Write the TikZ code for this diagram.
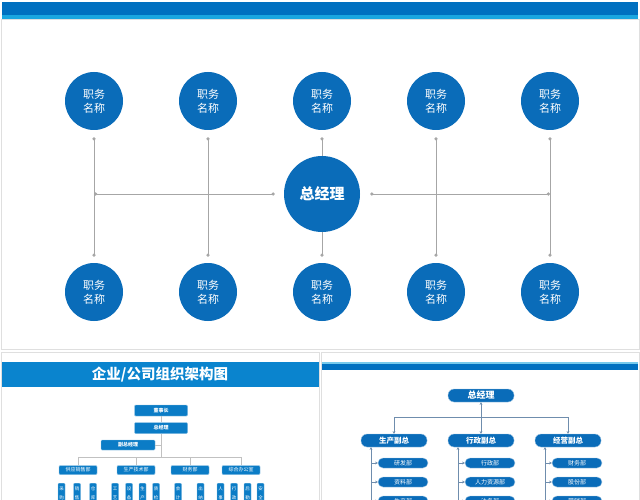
\documentclass[tikz,border=0pt]{standalone}
\usepackage{fontspec}
\setmainfont{Noto Sans CJK SC}
\usetikzlibrary{arrows.meta, positioning}

\definecolor{barblue}{HTML}{0070C0}
\definecolor{barcyan}{HTML}{1AA6E0}
\definecolor{jobblue}{HTML}{0A6CB9}
\definecolor{titleblue}{HTML}{0A84CE}
\definecolor{boxblue}{HTML}{0B7CC6}
\definecolor{linegray}{HTML}{A6A6A6}
\definecolor{lineblue}{HTML}{6F8DAD}

\tikzset{
  job/.style={circle, fill=jobblue, text=white, minimum size=58pt, inner sep=0pt,
    align=center, font=\fontsize{11}{14}\selectfont},
  boss/.style={job, minimum size=76pt, font=\fontsize{15}{18}\selectfont\bfseries},
  link/.style={draw=linegray, line width=0.8pt},
  dotlink/.style={link, {Circle[length=3.2pt]}-{Circle[length=3.2pt]}},
  orgbox/.style={draw=boxblue!45, fill=boxblue, text=white, rounded corners=1pt,
    inner sep=0pt, minimum width=53pt, minimum height=11pt,
    font=\fontsize{5}{6}\selectfont\bfseries},
  dept/.style={orgbox, minimum width=38pt, minimum height=9pt, font=\fontsize{5}{6}\selectfont},
  unit/.style={orgbox, anchor=north, minimum width=7pt, inner xsep=0pt, inner ysep=4pt,
    align=center, font=\fontsize{4.5}{9}\selectfont},
  glink/.style={draw=linegray!70, line width=0.6pt},
  pill/.style={draw=jobblue!40, fill=jobblue, text=white, rounded corners=6pt,
    minimum width=66pt, minimum height=13pt, inner sep=0pt,
    font=\fontsize{9}{10}\selectfont\bfseries},
  head/.style={pill, font=\fontsize{7.5}{9}\selectfont\bfseries},
  item/.style={pill, minimum width=50pt, minimum height=10pt, rounded corners=5pt,
    font=\fontsize{6}{7}\selectfont},
  arrlink/.style={draw=lineblue, line width=0.6pt, >={Stealth[length=2.6pt,width=2.6pt]}}
}

\begin{document}
\begin{tikzpicture}[x=1pt, y=-1pt]
    \useasboundingbox (0,0) rectangle (640,500);
    \fill[white] (0,0) rectangle (640,500);

    % main slide
    \draw[gray!25] (1,19) rectangle (639,349);
    \fill[barblue] (2,2) rectangle (638,15);
    \fill[barcyan] (2,15) rectangle (638,19);

    \node [boss] (gm) at (322,194) {总经理};
    \node [job] (t1) at (94,101) {职务\\名称};
    \node [job, right of=t1, node distance=114pt] (t2) {职务\\名称};
    \node [job, right of=t2, node distance=114pt] (t3) {职务\\名称};
    \node [job, right of=t3, node distance=114pt] (t4) {职务\\名称};
    \node [job, right of=t4, node distance=114pt] (t5) {职务\\名称};
    \node [job] (b1) at (94,292) {职务\\名称};
    \node [job, right of=b1, node distance=114pt] (b2) {职务\\名称};
    \node [job, right of=b2, node distance=114pt] (b3) {职务\\名称};
    \node [job, right of=b3, node distance=114pt] (b4) {职务\\名称};
    \node [job, right of=b4, node distance=114pt] (b5) {职务\\名称};

    \coordinate (hl) at (94,194);
    \coordinate (hr) at (550,194);

    % vertical links
    \draw[dotlink, shorten <=7pt, shorten >=6pt] (t1) -- (b1);
    \draw[dotlink, shorten <=7pt, shorten >=6pt] (t2) -- (b2);
    \draw[dotlink, shorten <=7pt, shorten >=6pt] (t4) -- (b4);
    \draw[dotlink, shorten <=7pt, shorten >=6pt] (t5) -- (b5);
    \draw[link, {Circle[length=3.2pt]}-, shorten <=7pt] (t3) -- (gm);
    \draw[link, -{Circle[length=3.2pt]}, shorten >=6pt] (gm) -- (b3);

    % horizontal links
    \draw[dotlink, shorten >=9pt] (hl) -- (gm);
    \draw[dotlink, shorten <=10pt] (gm) -- (hr);

    % left small slide
    \draw[gray!25] (1,352) rectangle (319,501);
    \fill[titleblue] (2,362) rectangle (319,387);
    \node [text=white, font=\fontsize{14.5}{16}\selectfont\bfseries] (ltitle) at (160,375) {企业/公司组织架构图};

    \node [orgbox] (chair) at (161,410.5) {董事长};
    \node [orgbox] (gm1) at (161,428) {总经理};
    \node [orgbox, minimum width=54pt, minimum height=10pt] (vice) at (128,445) {副总经理};
    \coordinate (lj) at (161,457);

    \node [dept] (d1) at (78,470) {供应销售部};
    \node [dept] (d2) at (136,470) {生产技术部};
    \node [dept] (d3) at (190,470) {财务部};
    \node [dept] (d4) at (241,470) {综合办公室};

    \draw[glink] (chair) -- (gm1);
    \draw[glink] (gm1) -- (lj);
    \draw[glink] (vice.east) -- (vice.east -| lj);
    \draw[glink] (d1.north) -- (d1.north |- lj) -- (d4.north |- lj) -- (d4.north);
    \draw[glink] (d2.north) -- (d2.north |- lj);
    \draw[glink] (d3.north) -- (d3.north |- lj);

    \node [unit] (u1) at (61.5,483) {采\\购};
    \node [unit] (u2) at (77,483) {销\\售};
    \node [unit] (u3) at (93,483) {仓\\库};
    \node [unit] (u4) at (115,483) {工\\艺};
    \node [unit] (u5) at (129,483) {设\\备};
    \node [unit] (u6) at (142.5,483) {生\\产};
    \node [unit] (u7) at (156,483) {质\\检};
    \node [unit] (u8) at (178,483) {会\\计};
    \node [unit] (u9) at (200.5,483) {出\\纳};
    \node [unit] (u10) at (220.5,483) {人\\事};
    \node [unit] (u11) at (234,483) {行\\政};
    \node [unit] (u12) at (247.5,483) {后\\勤};
    \node [unit] (u13) at (260.5,483) {安\\全};

    % right small slide
    \draw[gray!25] (321,352) rectangle (639,501);
    \fill[barblue] (322,362) rectangle (638,370);
    \fill[barcyan!60] (322,362) rectangle (638,363.5);

    \node [pill] (gm2) at (481,395.5) {总经理};
    \node [head] (vp1) at (394,440.5) {生产副总};
    \node [head] (vp2) at (481,440.5) {行政副总};
    \node [head] (vp3) at (568,440.5) {经营副总};
    \coordinate (rj) at (481,417);

    \draw[arrlink, <-] (gm2) -- (rj);
    \draw[arrlink, ->] (rj) -| (vp1);
    \draw[arrlink, ->] (rj) -- (vp2);
    \draw[arrlink, ->] (rj) -| (vp3);

    \node [item] (i11) at (403,463) {研发部};
    \node [item] (i12) at (403,482) {资料部};
    \node [item] (i13) at (403,501) {生产部};
    \node [item] (i21) at (490,463) {行政部};
    \node [item] (i22) at (490,482) {人力资源部};
    \node [item] (i23) at (490,501) {法务部};
    \node [item] (i31) at (577,463) {财务部};
    \node [item] (i32) at (577,482) {股份部};
    \node [item] (i33) at (577,501) {营销部};

    \coordinate (e1) at (371,510);
    \coordinate (e2) at (458,510);
    \coordinate (e3) at (545,510);

    \draw[arrlink, <-] (vp1.south -| e1) -- (e1);
    \draw[arrlink, <-] (vp2.south -| e2) -- (e2);
    \draw[arrlink, <-] (vp3.south -| e3) -- (e3);
    \draw[arrlink, ->] (i11.west -| e1) -- (i11);
    \draw[arrlink, ->] (i12.west -| e1) -- (i12);
    \draw[arrlink, ->] (i13.west -| e1) -- (i13);
    \draw[arrlink, ->] (i21.west -| e2) -- (i21);
    \draw[arrlink, ->] (i22.west -| e2) -- (i22);
    \draw[arrlink, ->] (i23.west -| e2) -- (i23);
    \draw[arrlink, ->] (i31.west -| e3) -- (i31);
    \draw[arrlink, ->] (i32.west -| e3) -- (i32);
    \draw[arrlink, ->] (i33.west -| e3) -- (i33);
\end{tikzpicture}
\end{document}
